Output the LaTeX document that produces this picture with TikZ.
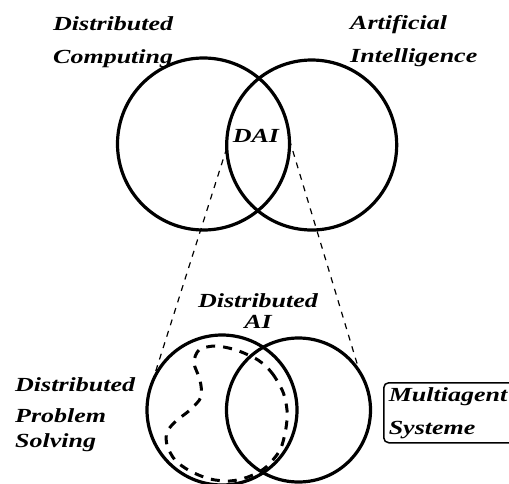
\documentclass[tikz,border=0pt]{standalone}
\usepackage{fontspec}
\newfontfamily\lblfont[FakeStretch=1.3]{Liberation Serif}
\begin{document}
\begin{tikzpicture}[x=1pt,y=-1pt,
  ring/.style={circle, draw, line width=3.2pt, inner sep=0pt, outer sep=0pt},
  zoomline/.style={line width=1.2pt, dash pattern=on 6pt off 6pt},
  loopdash/.style={line width=3pt, dash pattern=on 9pt off 8pt},
  txt/.style={font={\lblfont\fontsize{20}{33}\selectfont\bfseries\itshape}, inner sep=0pt, align=left},
  mabox/.style={draw, rounded corners=5pt, line width=1.5pt, inner xsep=4pt, inner ysep=0pt,
    minimum width=160pt, minimum height=60pt, text width=150pt}]
  \useasboundingbox (0,0) rectangle (509,483);
  \fill[white] (0,0) rectangle (509,483);
  \clip (0,0) rectangle (509,483);

  % upper pair of sets (the base anchor sits on the last line)
  \node[ring, minimum size=172pt] (DC) at (203.5,144) {};
  \node[ring, minimum size=170pt] (AI) at (311.7,145) {};
  \node[txt, anchor=base west] (dcText) at (53,63) {Distributed\\Computing};
  \node[txt, anchor=base west] (aiText) at (350,62) {Artificial\\Intelligence};
  \node[txt, anchor=base] (dai) at (256,142) {DAI};

  % lower pair of sets
  \node[ring, minimum size=150pt] (DPS) at (222,410) {};
  \node[ring, minimum size=144pt] (MAS) at (298.5,410) {};

  % zoom lines from the intersection down to the lower pair
  \draw[zoomline] (AI.182) -- (DPS.160);
  \draw[zoomline] (DC.3) -- (MAS.32);

  \node[txt, align=center, anchor=base,
    font={\lblfont\fontsize{20}{21}\selectfont\bfseries\itshape}] (daiText) at (258,328) {Distributed\\AI};
  \node[txt, anchor=base west, font={\lblfont\fontsize{20}{31}\selectfont\bfseries\itshape}]
    (dpsText) at (15,447) {Distributed\\Problem\\[-6pt]Solving};
  \node[mabox, txt, anchor=north west] (masText) at (383,382) {Multiagent\\Systeme};

  % dashed region inside the lower left set
  \draw[loopdash] plot[smooth cycle] coordinates {
    (258,360) (272,373) (283,392) (287,410) (286,428) (280,450) (265,468)
    (248,477) (230,481) (210,479) (190,471) (175,460) (167,445) (167,432)
    (176,421) (190,410) (201,397) (200,380) (194,363) (199,350) (215,346)
    (236,350)};
\end{tikzpicture}
\end{document}
